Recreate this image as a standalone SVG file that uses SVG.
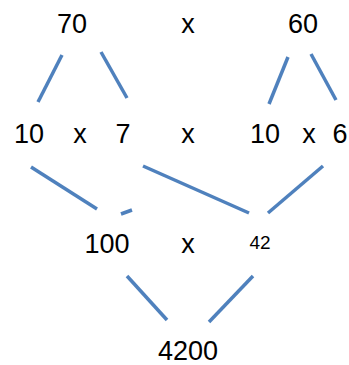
<svg xmlns="http://www.w3.org/2000/svg" width="349" height="365" viewBox="0 0 349 365">
<style>
text{font-family:"Liberation Sans",Arial,sans-serif;font-size:27px;fill:#000;text-anchor:middle}
.s{font-size:19px}
#connectors line{stroke:#4F81BD;stroke-width:3.5;stroke-linecap:butt}
</style>
<rect width="349" height="365" fill="#fff"/>
<g id="connectors">
<line x1="62" y1="55" x2="38" y2="102"/>
<line x1="101" y1="52" x2="127" y2="98"/>
<line x1="288" y1="57" x2="269" y2="104"/>
<line x1="311" y1="54" x2="336" y2="100"/>
<line x1="31" y1="167" x2="97" y2="209"/>
<line x1="121" y1="214" x2="132" y2="210"/>
<line x1="143" y1="166" x2="249" y2="213"/>
<line x1="323" y1="166" x2="268" y2="213"/>
<line x1="127" y1="276" x2="167" y2="320"/>
<line x1="253" y1="276" x2="209" y2="322"/>
</g>
<g id="n70"><text x="72" y="33">70</text></g>
<g id="xtop"><text x="188" y="33">x</text></g>
<g id="n60"><text x="303" y="33">60</text></g>
<g id="n10a"><text x="29" y="143">10</text></g>
<g id="x1"><text x="80" y="143">x</text></g>
<g id="n7"><text x="123" y="143">7</text></g>
<g id="x2"><text x="188" y="143">x</text></g>
<g id="n10b"><text x="265" y="143">10</text></g>
<g id="x3"><text x="309" y="143">x</text></g>
<g id="n6"><text x="340" y="143">6</text></g>
<g id="n100"><text x="107" y="253">100</text></g>
<g id="x4"><text x="188" y="253">x</text></g>
<g id="n42"><text class="s" x="260" y="249">42</text></g>
<g id="n4200"><text x="188" y="360">4200</text></g>
</svg>
